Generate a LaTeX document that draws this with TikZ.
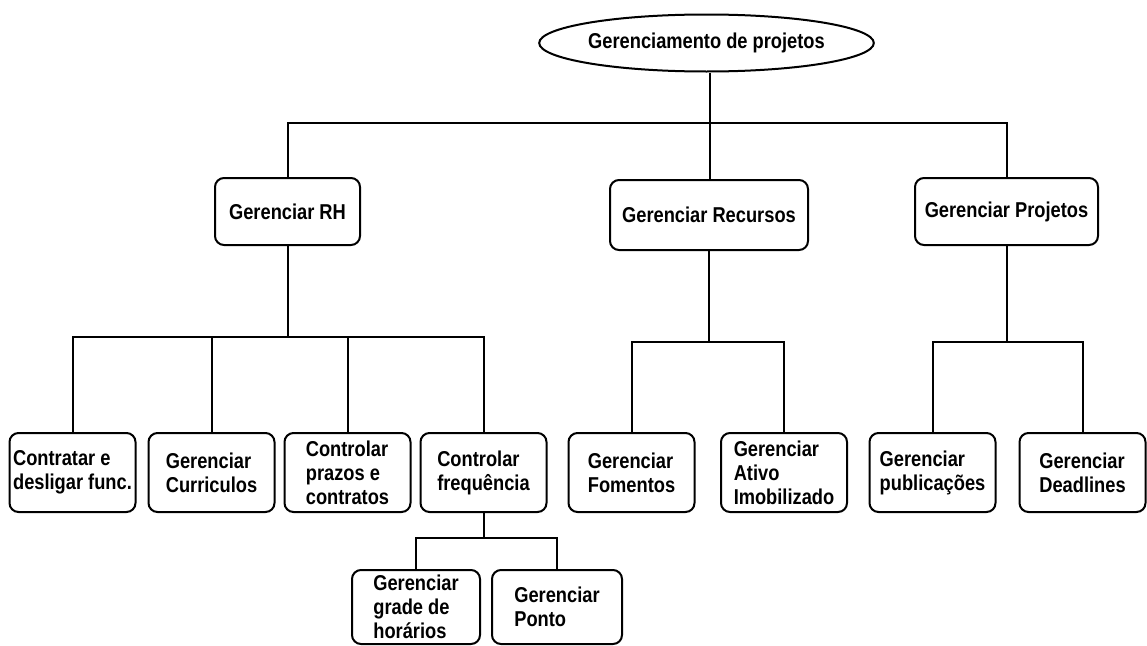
\documentclass[tikz,border=0pt]{standalone}
\usepackage{fontspec}
\setmainfont{Liberation Sans}[FakeStretch=0.85]
\usepackage{tikz}
\usetikzlibrary{positioning,shapes}

\begin{document}
\begin{tikzpicture}[x=1pt,y=-1pt,
  caixa/.style={draw,line width=2pt,rounded corners=9pt,inner sep=1pt,align=left,
    minimum width=126pt,minimum height=79pt,font=\bfseries\fontsize{21.5}{24}\selectfont},
  liga/.style={line width=2pt}]
  \useasboundingbox (0,0) rectangle (1147,645);
  % raiz
  \node[draw,ellipse,line width=2pt,minimum width=323pt,minimum height=57pt,inner sep=0pt,
    font=\bfseries\fontsize{21.5}{24}\selectfont] (raiz) at (706.5,43) {Gerenciamento de projetos};
  % segundo nivel
  \node[caixa,minimum width=145pt,minimum height=67pt] (rh) at (287.5,211.5) {Gerenciar RH};
  \node[caixa,minimum width=198pt,minimum height=70pt] (rec) at (709,215) {Gerenciar Recursos};
  \node[caixa,minimum width=183pt,minimum height=67pt] (proj) at (1006.5,211.5) {Gerenciar Projetos};
  % terceiro nivel
  \node[caixa] (contr) at (72.5,472.5) {Contratar e\\desligar func.};
  \node[caixa] (curr) at (211.5,472.5) {Gerenciar\\Curriculos};
  \node[caixa] (praz) at (347.5,472.5) {Controlar\\prazos e\\contratos};
  \node[caixa] (freq) at (483.5,472.5) {Controlar\\frequência};
  \node[caixa] (fom) at (631.5,472.5) {Gerenciar\\Fomentos};
  \node[caixa] (ativo) at (784,472.5) {Gerenciar\\Ativo\\Imobilizado};
  \node[caixa] (publ) at (932.5,472.5) {Gerenciar\\publicações};
  \node[caixa] (dead) at (1082.5,472.5) {Gerenciar\\Deadlines};
  % quarto nivel
  \node[caixa,minimum width=128pt,minimum height=74pt] (grade) at (416,607) {Gerenciar\\grade de\\horários};
  \node[caixa,minimum width=130pt,minimum height=74pt] (ponto) at (557,607) {Gerenciar\\Ponto};
  % barramentos
  \coordinate (b1) at (710,123);
  \coordinate (b2) at (287.5,337);
  \coordinate (b3) at (709,342);
  \coordinate (b4) at (1006.5,342);
  \coordinate (b5) at (483.5,538);
  % ligacoes
  \draw[liga] (raiz.south -| b1) -- (b1);
  \draw[liga] (b1) -| (rh.north);
  \draw[liga] (b1) -- (rec.north -| b1);
  \draw[liga] (b1) -| (proj.north);
  \draw[liga] (rh.south) -- (b2);
  \draw[liga] (b2) -| (contr.north);
  \draw[liga] (b2) -| (curr.north);
  \draw[liga] (b2) -| (praz.north);
  \draw[liga] (b2) -| (freq.north);
  \draw[liga] (rec.south) -- (b3);
  \draw[liga] (b3) -| (fom.north);
  \draw[liga] (b3) -| (ativo.north);
  \draw[liga] (proj.south) -- (b4);
  \draw[liga] (b4) -| (publ.north);
  \draw[liga] (b4) -| (dead.north);
  \draw[liga] (freq.south) -- (b5);
  \draw[liga] (b5) -| (grade.north);
  \draw[liga] (b5) -| (ponto.north);
\end{tikzpicture}
\end{document}
